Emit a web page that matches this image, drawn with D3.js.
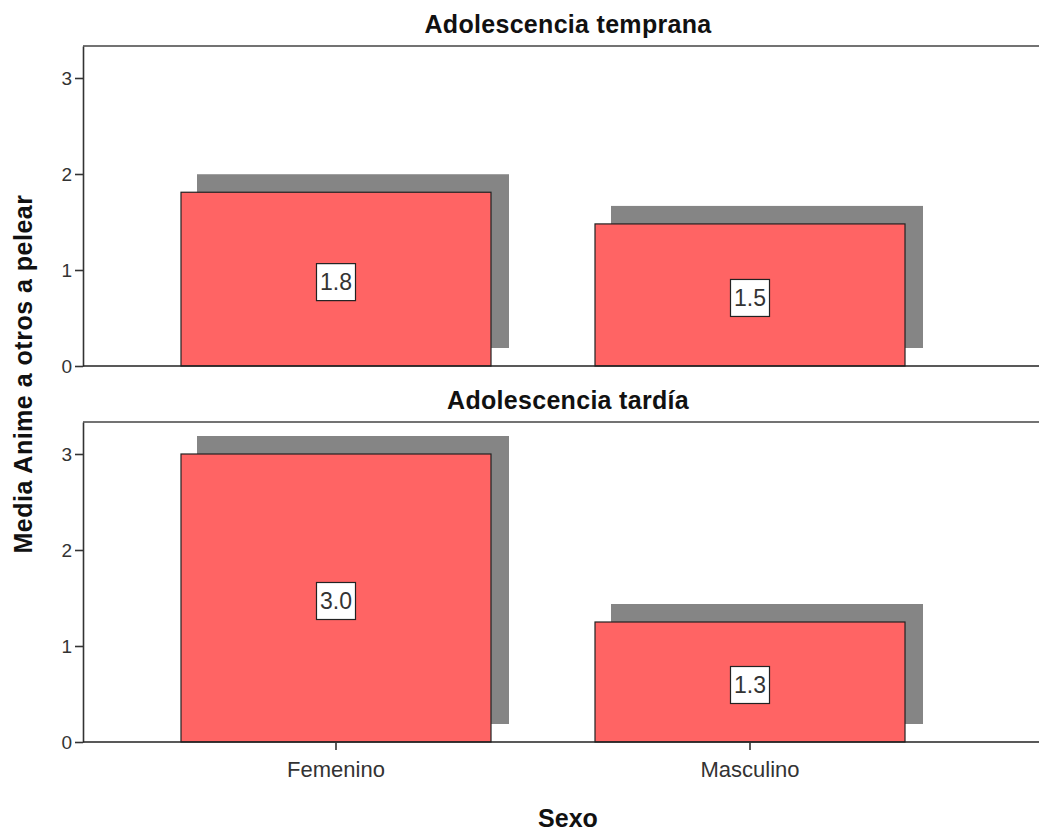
<!DOCTYPE html>
<html>
<head>
<meta charset="utf-8">
<script src="https://cdn.jsdelivr.net/npm/d3@7"></script>
<style>
  body { margin: 0; background: #fff; }
  svg { display: block; font-family: "Liberation Sans", Arial, sans-serif; }
</style>
</head>
<body>
<div id="chart"></div>
<script>
// data
const categories = ['Femenino', 'Masculino']
const panelTitles = ['Adolescencia temprana', 'Adolescencia tardía']
const tempranaValues = [1.81, 1.48]
const tardiaValues = [3.0, 1.25]
const yTicks = [0, 1, 2, 3]
const yTitle = 'Media Anime a otros a pelear'
const xTitle = 'Sexo'

const seriesByPanel = [tempranaValues, tardiaValues]

// scene
const width = 1039,
  height = 832,
  left = 83,
  panelTops = [46, 422],
  panelHeight = 320,
  shadow = 17

const svg = d3.select('#chart').append('svg')
  .attr('width', width)
  .attr('height', height)

// x scale shared by both panels
const x = d3.scaleBand()
  .domain(categories)
  .range([left, 1003])
  .paddingInner(0.2512)
  .paddingOuter(0.2367)

const fmt = d3.format('.1f')

panelTitles.forEach((title, p) => {
  const top = panelTops[p],
    bottom = top + panelHeight,
    values = seriesByPanel[p]

  const y = d3.scaleLinear()
    .domain([0, 10 / 3])
    .range([bottom, top])

  const g = svg.append('g')

  // panel title
  g.append('text')
    .attr('x', 568)
    .attr('y', top - 13)
    .attr('text-anchor', 'middle')
    .attr('font-size', 25)
    .attr('font-weight', 'bold')
    .attr('letter-spacing', 0.3)
    .attr('fill', '#111')
    .text(title)

  const rows = categories.map((c, i) => ({ cat: c, value: values[i] }))

  // drop shadows
  g.selectAll('rect.shadow')
    .data(rows)
    .join('rect')
    .attr('class', 'shadow')
    .attr('x', d => x(d.cat) + 16)
    .attr('y', d => y(d.value) - shadow - 1)
    .attr('width', x.bandwidth() + 2)
    .attr('height', d => y(0) - y(d.value))
    .attr('fill', '#858585')

  // bars
  g.selectAll('rect.bar')
    .data(rows)
    .join('rect')
    .attr('class', 'bar')
    .attr('x', d => x(d.cat))
    .attr('y', d => y(d.value))
    .attr('width', x.bandwidth())
    .attr('height', d => y(0) - y(d.value))
    .attr('fill', '#ff6464')
    .attr('stroke', '#222')
    .attr('stroke-width', 1.2)

  // value labels in boxes
  const lab = g.selectAll('g.lab')
    .data(rows)
    .join('g')
    .attr('class', 'lab')
    .attr('transform', d => `translate(${x(d.cat) + x.bandwidth() / 2},${(y(d.value) + y(0)) / 2 + 3})`)

  lab.append('rect')
    .attr('x', -19.5)
    .attr('y', -18.5)
    .attr('width', 39)
    .attr('height', 37)
    .attr('fill', '#fff')
    .attr('stroke', '#222')
    .attr('stroke-width', 1.2)

  lab.append('text')
    .attr('text-anchor', 'middle')
    .attr('dy', '0.36em')
    .attr('font-size', 23)
    .attr('fill', '#333')
    .text(d => fmt(d.value))

  // y axis
  const yAxis = g.append('g')
    .attr('transform', `translate(${left},0)`)
    .call(d3.axisLeft(y).tickValues(yTicks).tickFormat(d3.format('d')).tickSize(8).tickSizeOuter(0).tickPadding(3))

  yAxis.select('.domain').attr('stroke', '#333').attr('stroke-width', 1.6)
  yAxis.selectAll('.tick line').attr('stroke', '#333').attr('stroke-width', 1.6)
  yAxis.selectAll('.tick text').attr('font-size', 19).attr('fill', '#333').attr('font-family', null)

  // frame top and baseline
  g.append('line')
    .attr('x1', left).attr('x2', width)
    .attr('y1', top).attr('y2', top)
    .attr('stroke', '#444').attr('stroke-width', 1.6)

  g.append('line')
    .attr('x1', left).attr('x2', width)
    .attr('y1', bottom).attr('y2', bottom)
    .attr('stroke', '#222').attr('stroke-width', 1.6)

  // x axis only under the last panel
  if(p === panelTitles.length - 1) {
    const xAxis = g.append('g')
      .attr('transform', `translate(0,${bottom})`)
      .call(d3.axisBottom(x).tickSize(8).tickSizeOuter(0).tickPadding(11))

    xAxis.select('.domain').remove()
    xAxis.selectAll('.tick line').attr('stroke', '#333').attr('stroke-width', 1.6)
    xAxis.selectAll('.tick text').attr('font-size', 22).attr('fill', '#333').attr('font-family', null)
  }
})

// axis titles
svg.append('text')
  .attr('transform', `translate(32,374) rotate(-90)`)
  .attr('text-anchor', 'middle')
  .attr('font-size', 25)
  .attr('font-weight', 'bold')
  .attr('letter-spacing', 0.5)
  .attr('fill', '#111')
  .text(yTitle)

svg.append('text')
  .attr('x', 568)
  .attr('y', 827)
  .attr('text-anchor', 'middle')
  .attr('font-size', 25)
  .attr('font-weight', 'bold')
  .attr('fill', '#111')
  .text(xTitle)
</script>
</body>
</html>
